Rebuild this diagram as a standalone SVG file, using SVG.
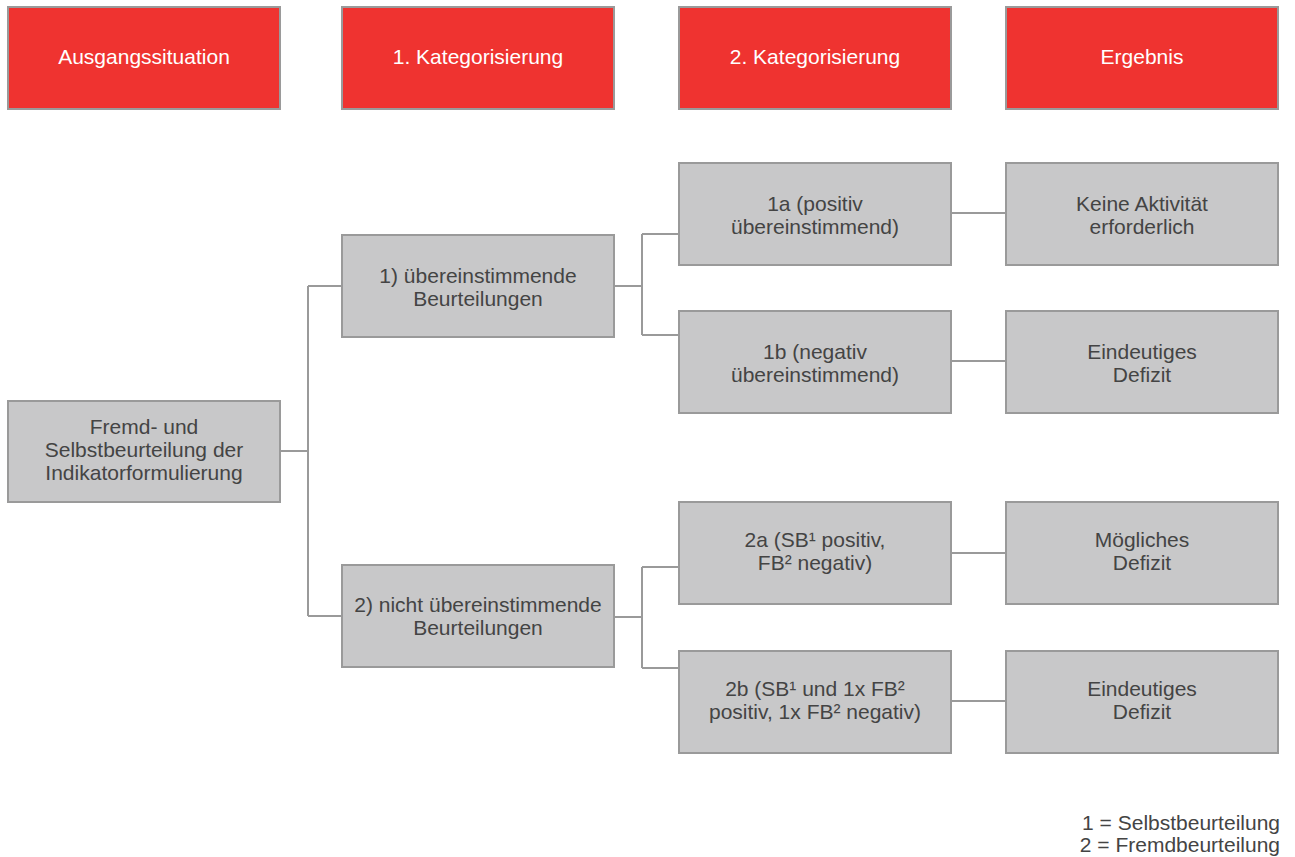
<svg xmlns="http://www.w3.org/2000/svg" width="1295" height="857" viewBox="0 0 1295 857">
<style>
.h rect{fill:#EF3330;stroke:#9A9A9A;stroke-width:2}
.n rect{fill:#C8C8C9;stroke:#9A9A9A;stroke-width:2}
text{font-family:"Liberation Sans",Arial,sans-serif;font-size:21px;text-anchor:middle}
.h text{fill:#FFFFFF}
.n text{fill:#444444}
.c{fill:none;stroke:#9A9A9A;stroke-width:2}
.f{fill:#444444;text-anchor:end}
</style>
<rect width="1295" height="857" fill="#FFFFFF"/>
<g id="h1" class="h"><rect x="8" y="7" width="272" height="102"/><text x="144" y="64">Ausgangssituation</text></g>
<g id="h2" class="h"><rect x="342" y="7" width="272" height="102"/><text x="478" y="64">1. Kategorisierung</text></g>
<g id="h3" class="h"><rect x="679" y="7" width="272" height="102"/><text x="815" y="64">2. Kategorisierung</text></g>
<g id="h4" class="h"><rect x="1006" y="7" width="272" height="102"/><text x="1142" y="64">Ergebnis</text></g>
<g id="connectors">
<path class="c" d="M280 451 H308 M308 286 V616 M308 286 H342 M308 616 H342"/>
<path class="c" d="M614 286 H642 M642 234 V335 M642 234 H679 M642 335 H679"/>
<path class="c" d="M614 617 H642 M642 567 V668 M642 567 H679 M642 668 H679"/>
<path class="c" d="M951 213 H1006 M951 361 H1006 M951 553 H1006 M951 701 H1006"/>
</g>
<g id="root" class="n"><rect x="8" y="401" width="272" height="101"/><text x="144" y="434">Fremd- und</text><text x="144" y="457">Selbstbeurteilung der</text><text x="144" y="480">Indikatorformulierung</text></g>
<g id="k1" class="n"><rect x="342" y="235" width="272" height="102"/><text x="478" y="283">1) übereinstimmende</text><text x="478" y="306">Beurteilungen</text></g>
<g id="k2" class="n"><rect x="342" y="565" width="272" height="102"/><text x="478" y="612">2) nicht übereinstimmende</text><text x="478" y="635">Beurteilungen</text></g>
<g id="k1a" class="n"><rect x="679" y="163" width="272" height="102"/><text x="815" y="211">1a (positiv</text><text x="815" y="234">übereinstimmend)</text></g>
<g id="k1b" class="n"><rect x="679" y="311" width="272" height="102"/><text x="815" y="359">1b (negativ</text><text x="815" y="382">übereinstimmend)</text></g>
<g id="k2a" class="n"><rect x="679" y="502" width="272" height="102"/><text x="815" y="547">2a (SB¹ positiv,</text><text x="815" y="570">FB² negativ)</text></g>
<g id="k2b" class="n"><rect x="679" y="651" width="272" height="102"/><text x="815" y="696">2b (SB¹ und 1x FB²</text><text x="815" y="719">positiv, 1x FB² negativ)</text></g>
<g id="r1a" class="n"><rect x="1006" y="163" width="272" height="102"/><text x="1142" y="211">Keine Aktivität</text><text x="1142" y="234">erforderlich</text></g>
<g id="r1b" class="n"><rect x="1006" y="311" width="272" height="102"/><text x="1142" y="359">Eindeutiges</text><text x="1142" y="382">Defizit</text></g>
<g id="r2a" class="n"><rect x="1006" y="502" width="272" height="102"/><text x="1142" y="547">Mögliches</text><text x="1142" y="570">Defizit</text></g>
<g id="r2b" class="n"><rect x="1006" y="651" width="272" height="102"/><text x="1142" y="696">Eindeutiges</text><text x="1142" y="719">Defizit</text></g>
<g id="footnote"><text class="f" x="1280" y="830">1 = Selbstbeurteilung</text><text class="f" x="1280" y="852">2 = Fremdbeurteilung</text></g>
</svg>
